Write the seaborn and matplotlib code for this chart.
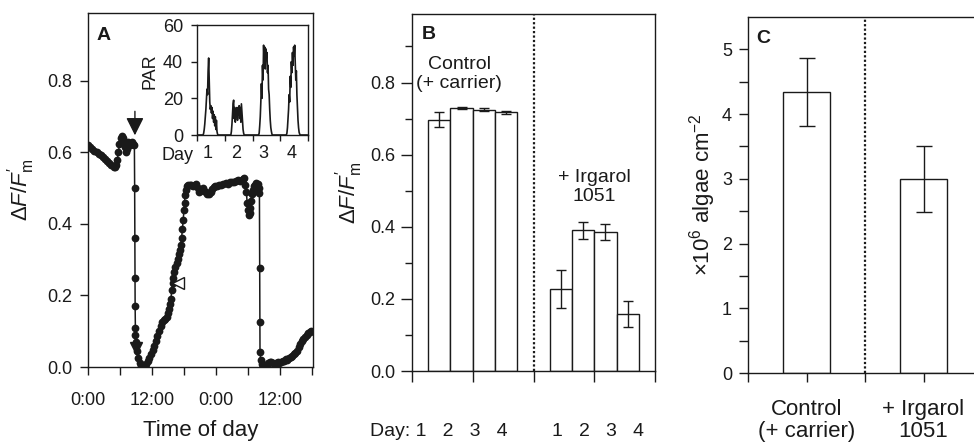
import numpy as np
import pandas as pd
import matplotlib
matplotlib.use("Agg")
import matplotlib.pyplot as plt
from matplotlib.ticker import FixedLocator, FormatStrFormatter
import seaborn as sns

# ---------------- data ----------------
# Panel A: effective quantum yield, time in hours from the first midnight
time_h = [0.0, 0.4, 0.8, 1.2, 1.6, 2.0, 2.4, 2.8, 3.2, 3.6, 4.0, 4.4, 4.8, 5.1, 5.3,
          5.5, 5.7, 5.9, 6.1, 6.3, 6.5, 6.7, 6.9, 7.1, 7.3, 7.5, 7.7, 7.9, 8.1, 8.3,
          8.5, 8.7,
          8.75, 8.78, 8.81, 8.84, 8.87, 8.9, 8.93,
          9.1, 9.4, 9.7, 10.0, 10.3, 10.6, 10.9, 11.2, 11.5, 11.8, 12.1, 12.4, 12.7,
          13.0, 13.3, 13.6, 13.9, 14.2, 14.5, 14.8, 15.0, 15.2, 15.4, 15.55, 15.7,
          15.85, 16.0, 16.2, 16.4, 16.6, 16.8, 17.0, 17.2, 17.4, 17.55, 17.7, 17.85,
          18.0, 18.1, 18.2, 18.3, 18.5, 18.8, 19.1, 19.4, 19.7, 20.0, 20.3, 20.6,
          20.9, 21.2, 21.5, 21.8, 22.1, 22.4, 22.7, 23.0, 23.3, 23.6, 23.9, 24.2,
          24.6, 25.0, 25.4, 25.8, 26.2, 26.6, 27.0, 27.4, 27.8, 28.2, 28.6, 29.0,
          29.3, 29.5, 29.7, 29.85, 30.0, 30.15, 30.3, 30.45, 30.6, 30.8, 31.0, 31.2,
          31.4, 31.6, 31.8, 32.0, 32.15,
          32.2, 32.23, 32.26, 32.4, 32.6, 32.9, 33.2, 33.5, 33.8, 34.1, 34.4, 34.7,
          35.0, 35.3, 35.6, 35.9, 36.2, 36.5, 36.8, 37.1, 37.4, 37.7, 38.0, 38.3,
          38.6, 38.9, 39.2, 39.5, 39.8, 40.1, 40.4, 40.7, 41.0, 41.3, 41.6, 41.9]
yield_a = [0.62, 0.615, 0.61, 0.605, 0.60, 0.597, 0.593, 0.588, 0.583, 0.575, 0.57,
           0.565, 0.56, 0.558, 0.565, 0.58, 0.60, 0.625, 0.64, 0.645, 0.64, 0.63,
           0.615, 0.60, 0.61, 0.63, 0.625, 0.62, 0.625, 0.63, 0.625, 0.62,
           0.50, 0.36, 0.25, 0.17, 0.11, 0.09, 0.07,
           0.045, 0.025, 0.01, 0.003, 0.0, 0.002, 0.008, 0.016, 0.026, 0.037, 0.048,
           0.06, 0.074, 0.088, 0.102, 0.115, 0.125, 0.131, 0.134, 0.14, 0.15, 0.162,
           0.175, 0.19, 0.215, 0.235, 0.25, 0.265, 0.28, 0.292, 0.303, 0.315, 0.327,
           0.34, 0.36, 0.385, 0.41, 0.44, 0.46, 0.48, 0.495, 0.505, 0.51, 0.51,
           0.508, 0.505, 0.51, 0.512, 0.50, 0.49, 0.495, 0.50, 0.493, 0.49, 0.485,
           0.483, 0.49, 0.497, 0.502, 0.505, 0.507, 0.508, 0.51, 0.512, 0.515,
           0.513, 0.516, 0.518, 0.517, 0.52, 0.522, 0.52, 0.525, 0.528, 0.51, 0.49,
           0.46, 0.44, 0.425, 0.43, 0.445, 0.465, 0.485, 0.495, 0.505, 0.51, 0.514,
           0.512, 0.50, 0.487,
           0.276, 0.127, 0.043, 0.02, 0.008, 0.003, 0.002, 0.005, 0.01, 0.015, 0.015,
           0.012, 0.008, 0.01, 0.013, 0.012, 0.015, 0.017, 0.018, 0.022, 0.02, 0.025,
           0.028, 0.03, 0.035, 0.04, 0.045, 0.055, 0.065, 0.072, 0.078, 0.085, 0.09,
           0.094, 0.098, 0.102]
irgarol_added_h = 8.8
recovery_h, recovery_yield = 16.9, 0.234
time_ticks = [0, 6, 12, 18, 24, 30, 36, 42]
time_labels = ["0:00", "", "12:00", "", "0:00", "", "12:00", ""]

# Inset: PAR over four days (fraction of each day)
par_day_frac = [0.02, 0.20, 0.22, 0.24, 0.26, 0.28, 0.30, 0.32, 0.34, 0.36, 0.38, 0.40,
                0.42, 0.44, 0.46, 0.48, 0.50, 0.52, 0.54, 0.56, 0.58, 0.60, 0.62, 0.64,
                0.66, 0.68, 0.70, 0.72, 0.74, 0.76, 0.80, 0.98]
par_day1 = [0, 0, 0, 1, 3, 6, 10, 14, 20, 25, 22, 35, 42, 30, 18, 14, 16, 12, 15, 9,
            13, 7, 11, 5, 10, 3, 8, 2, 0.5, 0, 0, 0]
par_day2 = [0, 0, 0, 2, 6, 12, 17, 19, 9, 15, 7, 13, 10, 15, 8, 14, 11, 16, 9, 15,
            7, 17, 12, 6, 3, 1, 0, 0, 0, 0, 0, 0]
par_day3 = [0, 0, 0, 1, 5, 10, 18, 28, 20, 38, 30, 49, 40, 48, 36, 47, 42, 45, 34, 38,
            25, 22, 14, 8, 4, 2, 0.5, 0, 0, 0, 0, 0]
par_day4 = [0, 0, 0, 1, 4, 9, 14, 22, 18, 32, 26, 40, 34, 45, 38, 48, 43, 49, 40, 30,
            35, 22, 15, 8, 4, 1.5, 0.5, 0, 0, 0, 0, 0]
day_labels = ["1", "2", "3", "4"]

# Panel B: yield per day, mean +/- error
groups = ["Control (+ carrier)", "+ Irgarol 1051"]
days = ["1", "2", "3", "4"]
control_yield = [0.697, 0.730, 0.725, 0.717]
control_err = [0.020, 0.003, 0.004, 0.005]
irgarol_yield = [0.227, 0.390, 0.386, 0.158]
irgarol_err = [0.052, 0.023, 0.023, 0.036]

# Panel C: algal density
c_labels = ["Control\n(+ carrier)", "+ Irgarol\n1051"]
algae = [4.34, 2.99]
algae_err = [0.53, 0.51]

# ---------------- style ----------------
sns.set_theme(style="ticks")
ink = "#1a1a1a"
plt.rcParams["font.family"] = ["Liberation Sans", "DejaVu Sans"]
plt.rcParams.update({
    "mathtext.fontset": "custom",
    "mathtext.rm": "Liberation Sans",
    "mathtext.it": "Liberation Sans:italic",
    "mathtext.bf": "Liberation Sans:bold",
    "axes.edgecolor": ink, "axes.linewidth": 1.0,
    "xtick.color": ink, "ytick.color": ink,
    "text.color": ink, "axes.labelcolor": ink,
    "xtick.direction": "out", "ytick.direction": "out",
    "axes.facecolor": "white",
})

W, H = 974, 443
fig = plt.figure(figsize=(W / 100, H / 100), dpi=100)


def box(l, t, r, b):
    return [l / W, 1 - b / H, (r - l) / W, (b - t) / H]


axA = fig.add_axes(box(88, 13, 313, 367))
axIn = fig.add_axes(box(197, 25, 308, 135))
axB = fig.add_axes(box(412, 14, 655, 371))
axC = fig.add_axes(box(748, 17, 982, 373))

yield_label = r"$\Delta\mathit{F}/\mathit{F}_{\mathrm{m}}^{\prime}$"

# ---------------- Panel A ----------------
dfa = pd.DataFrame({"time": time_h, "yield": yield_a})
sns.lineplot(data=dfa, x="time", y="yield", ax=axA, color=ink, lw=1.1,
             marker="o", markersize=5.6, markeredgewidth=0, markeredgecolor=ink,
             estimator=None, sort=False)
axA.annotate("", xy=(irgarol_added_h, 0.648), xytext=(irgarol_added_h, 0.715),
             arrowprops=dict(arrowstyle="-|>,head_length=0.9,head_width=0.45",
                             color=ink, lw=1.0, shrinkA=0, shrinkB=0))
axA.plot([irgarol_added_h + 0.2], [0.052], marker="v", color=ink, markersize=9,
         linestyle="none")
axA.plot([recovery_h], [recovery_yield], marker="<", mfc="white", mec=ink,
         markersize=9, mew=1.0, linestyle="none")
axA.set_xlim(0, 42.2)
axA.set_ylim(0, 0.99)
axA.set_xticks(time_ticks)
axA.set_xticklabels(time_labels)
axA.set_yticks([0, 0.2, 0.4, 0.6, 0.8])
axA.yaxis.set_major_formatter(FormatStrFormatter("%.1f"))
axA.tick_params(axis="both", length=6, width=1, labelsize=13)
axA.tick_params(axis="x", pad=12)
axA.tick_params(axis="y", pad=5)
axA.set_xlabel("Time of day", fontsize=16)
axA.xaxis.set_label_coords(0.5, -0.15)
axA.set_ylabel(yield_label, fontsize=16)
axA.yaxis.set_label_coords(-0.225, 0.5)
axA.text(0.04, 0.96, "A", transform=axA.transAxes, fontsize=14, fontweight="bold",
         ha="left", va="top")

# ---------------- Inset ----------------
par_series = [par_day1, par_day2, par_day3, par_day4]
par_t = [d + f for d in range(len(par_series)) for f in par_day_frac]
par_v = [v for day in par_series for v in day]
sns.lineplot(x=par_t, y=par_v, ax=axIn, color=ink, lw=1.2, estimator=None, sort=False)
axIn.set_xlim(0, 4)
axIn.set_ylim(0, 60)
axIn.set_yticks([0, 20, 40, 60])
axIn.set_xticks([0, 1, 2, 3, 4])
axIn.set_xticklabels([])
axIn.xaxis.set_minor_locator(FixedLocator([0.4, 1.4, 2.4, 3.4]))
axIn.set_xticklabels(day_labels, minor=True)
axIn.tick_params(axis="both", length=4, width=1, labelsize=13)
axIn.tick_params(axis="x", which="minor", length=0, labelsize=13, pad=7)
axIn.tick_params(axis="y", pad=6)
axIn.set_ylabel("PAR", fontsize=13)
axIn.yaxis.set_label_coords(-0.35, 0.58)
axIn.text(-0.035, -0.19, "Day", transform=axIn.transAxes, ha="right", va="center",
          fontsize=13)

# ---------------- Panel B ----------------
dfb = pd.DataFrame({
    "group": np.repeat(groups, len(days)),
    "day": days * len(groups),
    "yield": control_yield + irgarol_yield,
    "err": control_err + irgarol_err,
})
sns.barplot(data=dfb, x="group", y="yield", hue="day", order=groups, hue_order=days,
            palette={d: "white" for d in days}, edgecolor=ink, linewidth=1.0,
            width=0.733, gap=0, errorbar=None, legend=False, ax=axB)
bars = sorted(axB.patches, key=lambda p: p.get_x())
axB.errorbar([p.get_x() + p.get_width() / 2 for p in bars],
             [p.get_height() for p in bars], yerr=dfb["err"], fmt="none",
             ecolor=ink, elinewidth=1.0, capsize=3.6, capthick=1.0)
axB.axvline(0.5, color=ink, ls=(0, (1, 1)), lw=1.6)
axB.set_xlim(-0.5, 1.5)
axB.set_ylim(0, 0.99)
axB.set_xticks([-0.5, 0, 0.5, 1, 1.5])
axB.set_xticklabels([])
axB.set_yticks([0, 0.2, 0.4, 0.6, 0.8])
axB.yaxis.set_minor_locator(FixedLocator([0.1, 0.3, 0.5, 0.7, 0.9]))
axB.yaxis.set_major_formatter(FormatStrFormatter("%.1f"))
axB.tick_params(axis="both", which="major", length=8, width=1, labelsize=13)
axB.tick_params(axis="y", which="minor", length=5, width=1)
axB.tick_params(axis="y", pad=4)
axB.set_xlabel("")
axB.set_ylabel(yield_label, fontsize=16)
axB.yaxis.set_label_coords(-0.195, 0.5)
axB.text(0.04, 0.965, "B", transform=axB.transAxes, fontsize=14, fontweight="bold",
         ha="left", va="top")
axB.text(-0.11, 0.823, "Control\n(+ carrier)", ha="center", va="center",
         fontsize=14, linespacing=1.15)
axB.text(1.0, 0.51, "+ Irgarol\n1051", ha="center", va="center", fontsize=14,
         linespacing=1.15)
xt = axB.get_xaxis_transform()
axB.text(-0.28, -0.145, "Day: " + "   ".join(days), transform=xt, ha="center",
         va="top", fontsize=14)
axB.text(1.03, -0.145, "   ".join(days), transform=xt, ha="center", va="top",
         fontsize=14)

# ---------------- Panel C ----------------
sns.barplot(x=c_labels, y=algae, color="white", edgecolor=ink, linewidth=1.0,
            width=0.41, errorbar=None, ax=axC)
cbars = sorted(axC.patches, key=lambda p: p.get_x())
axC.errorbar([p.get_x() + p.get_width() / 2 for p in cbars],
             [p.get_height() for p in cbars], yerr=algae_err, fmt="none",
             ecolor=ink, elinewidth=1.0, capsize=5.5, capthick=1.0)
axC.axvline(0.5, color=ink, ls=(0, (1, 1)), lw=1.6)
axC.set_xlim(-0.5, 1.5)
axC.set_ylim(0, 5.5)
axC.set_xticks([0, 1])
axC.set_xticklabels(c_labels, linespacing=1.1)
axC.xaxis.set_minor_locator(FixedLocator([-0.5, 0.5, 1.5]))
axC.set_yticks([0, 1, 2, 3, 4, 5])
axC.yaxis.set_minor_locator(FixedLocator([0.5, 1.5, 2.5, 3.5, 4.5]))
axC.tick_params(axis="both", which="both", length=6.5, width=1)
axC.tick_params(axis="y", labelsize=13, pad=5)
axC.tick_params(axis="x", labelsize=16, pad=12)
axC.set_ylabel("×10$^{6}$ algae cm$^{-2}$", fontsize=16)
axC.yaxis.set_label_coords(-0.13, 0.5)
axC.text(0.037, 0.963, "C", transform=axC.transAxes, fontsize=14, fontweight="bold",
         ha="left", va="top")

fig.savefig("out.png", dpi=100)
